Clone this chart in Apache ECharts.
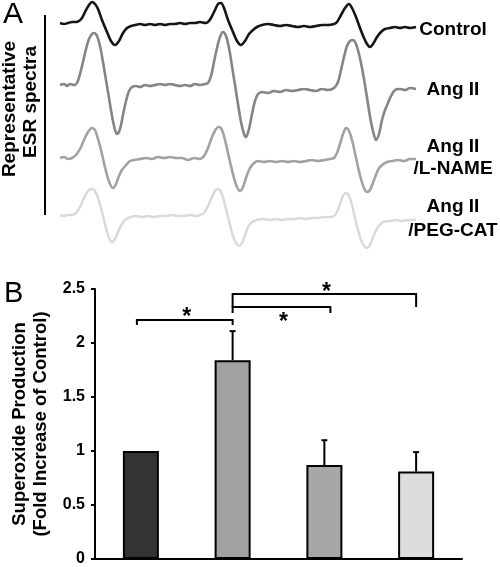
<!DOCTYPE html>
<html><head><meta charset="utf-8">
<script src="https://cdn.jsdelivr.net/npm/echarts@6/dist/echarts.min.js"></script>
<style>html,body{margin:0;padding:0;background:#fff}#c{width:500px;height:567px}</style>
</head><body><div id="c"></div>
<script>
// ---------- Panel A: representative ESR spectra (field units, signal relative to baseline) ----------
const spectrumNames = ['Control', 'Ang II', 'Ang II\n/L-NAME', 'Ang II\n/PEG-CAT'];
const spectrumColors = ['#151515', '#858585', '#a2a2a2', '#dadada'];

const controlSpectrum = [[0,0],[4,-1],[8,0],[12,1],[16,1],[19,2],[22,5],[26,13],[29,18],[32,21],[35,19],[38,14],[42,3],[47,-9],[51,-18],[55,-22],[59,-18],[63,-10],[67,-5],[71,-3],[75,-2],[80,-1],[85,-2],[90,-1],[95,-2],[100,-1],[105,-2],[110,-1],[115,-1],[120,0],[125,-1],[130,0],[135,0],[140,1],[145,0],[148,1],[151,5],[155,13],[158,19],[161,20],[164,15],[168,3],[173,-9],[177,-18],[181,-22],[185,-18],[189,-11],[193,-7],[197,-4],[202,-2],[208,-1],[214,-2],[220,-3],[226,-2],[232,-3],[238,-4],[244,-3],[250,-4],[256,-3],[262,-2],[268,-2],[274,-1],[277,1],[281,8],[285,15],[289,19],[292,15],[296,6],[300,-5],[304,-15],[307,-21],[310,-24],[313,-21],[317,-14],[321,-9],[325,-6],[330,-5],[335,-4],[340,-5],[345,-4],[350,-5],[356,-4]];

const angIISpectrum = [[0,0],[4,1],[7,-1],[10,1],[14,0],[17,2],[20,11],[23,23],[26,36],[29,46],[32,51],[34,52],[37,49],[40,39],[43,23],[46,5],[49,-13],[52,-31],[55,-45],[57,-49],[60,-44],[63,-30],[66,-16],[69,-6],[72,-2],[76,-1],[80,-2],[85,0],[90,-1],[95,0],[100,1],[105,0],[110,1],[115,0],[120,-1],[125,0],[130,-1],[135,1],[140,0],[145,1],[148,2],[151,9],[154,23],[157,37],[160,48],[163,53],[166,49],[169,37],[172,19],[175,0],[178,-19],[181,-37],[184,-49],[186,-52],[189,-44],[192,-29],[195,-16],[198,-9],[202,-7],[208,-8],[214,-6],[220,-7],[226,-5],[232,-6],[238,-5],[244,-4],[250,-5],[256,-6],[262,-4],[268,-5],[274,-3],[278,3],[281,15],[284,28],[287,39],[290,44],[293,45],[296,41],[299,31],[302,17],[305,0],[308,-19],[311,-37],[314,-50],[316,-55],[319,-49],[322,-35],[325,-25],[328,-18],[331,-11],[335,-5],[340,-4],[345,-5],[350,-3],[356,-4]];

const lnameSpectrum = [[0,0],[4,1],[8,-1],[12,0],[16,3],[20,9],[24,18],[28,26],[32,30],[35,28],[38,19],[41,8],[44,-5],[47,-17],[50,-26],[53,-30],[56,-26],[59,-18],[62,-12],[66,-7],[70,-3],[74,-2],[80,-1],[86,0],[92,-1],[98,1],[104,0],[110,1],[116,0],[122,0],[128,-2],[134,0],[140,-1],[144,2],[148,10],[152,21],[156,29],[159,31],[162,28],[165,18],[168,5],[171,-8],[174,-20],[177,-29],[180,-33],[183,-29],[186,-20],[189,-12],[193,-6],[198,-3],[204,-4],[210,-3],[216,-4],[222,-3],[228,-4],[234,-3],[240,-4],[246,-3],[252,-2],[258,-3],[264,-2],[270,-1],[274,0],[277,5],[280,14],[283,24],[286,30],[289,27],[292,18],[295,5],[298,-9],[301,-21],[304,-30],[307,-34],[310,-32],[314,-22],[318,-12],[322,-7],[327,-4],[332,-3],[338,-2],[344,-3],[350,-1],[356,-1]];

const pegcatSpectrum = [[0,0],[4,-1],[8,0],[12,0],[16,2],[20,8],[24,17],[28,24],[32,26],[35,24],[38,17],[41,7],[44,-5],[47,-17],[50,-25],[52,-27],[55,-24],[58,-17],[62,-9],[66,-4],[71,-2],[76,-1],[82,-2],[88,-1],[94,-2],[100,-1],[106,-1],[112,0],[118,-1],[124,-1],[130,0],[136,-1],[140,0],[144,2],[148,9],[152,18],[155,24],[158,26],[161,23],[164,14],[167,2],[170,-10],[173,-21],[176,-28],[179,-31],[182,-28],[185,-20],[188,-12],[192,-7],[197,-5],[203,-4],[210,-5],[216,-4],[222,-5],[228,-4],[234,-4],[240,-3],[246,-4],[252,-3],[258,-3],[264,-2],[270,-2],[274,-1],[277,3],[280,11],[283,19],[286,22],[289,19],[292,10],[295,-3],[298,-15],[301,-25],[304,-31],[307,-33],[310,-30],[314,-20],[318,-12],[323,-7],[330,-6],[336,-5],[342,-6],[348,-5],[356,-5]];

const spectra = [controlSpectrum, angIISpectrum, lnameSpectrum, pegcatSpectrum];

// ---------- Panel B: superoxide production ----------
const barCategories = ['Control', 'Ang II', 'Ang II/L-NAME', 'Ang II/PEG-CAT'];
const barValues = [1.00, 1.84, 0.87, 0.81];
const barErrors = [0, 0.27, 0.23, 0.18];
const barColors = ['#333333', '#a1a1a1', '#a7a7a7', '#dddddd'];
const yTickLabels = ['0', '0.5', '1', '1.5', '2', '2.5'];

// significance brackets: from category, to category, bracket level, end level, star level
const bracketFrom = [0, 1, 1];
const bracketTo = [1, 2, 3];
const bracketLevel = [2.213, 2.333, 2.454];
const bracketEnd = [2.167, 2.278, 2.333];
const starLevel = [2.236, 2.185, 2.463];

// ---------- layout ----------
const spectrumBaselines = [23, 85, 158, 215];
const labelCenters = [[30], [90], [147, 169], [207, 231]];
const bracketNudgeL = [-4, 0, 0];   // pixel nudges of bracket ends
const bracketNudgeR = [0, 6, 0];
const FONT = '"Liberation Sans", Arial, Helvetica, sans-serif';

const grids = [], xAxes = [], yAxes = [], series = [];
spectra.forEach((s, i) => {
  grids.push({left: 60, width: 356, top: spectrumBaselines[i] - 20, height: 40, containLabel: false, outerBoundsMode: 'none'});
  xAxes.push({type: 'value', gridIndex: i, min: 0, max: 356, show: false});
  yAxes.push({type: 'value', gridIndex: i, min: -20, max: 20, show: false});
  series.push({
    type: 'line', xAxisIndex: i, yAxisIndex: i, data: s, showSymbol: false, smooth: 0.3,
    clip: false, lineStyle: {color: spectrumColors[i], width: 2.6}, silent: true
  });
});

const bi = 4;
grids.push({left: 95, right: 38, top: 289, bottom: 8, containLabel: false, outerBoundsMode: 'none'});
xAxes.push({
  type: 'category', gridIndex: bi, data: barCategories,
  axisLine: {show: true, lineStyle: {color: '#000', width: 2}},
  axisTick: {show: false}, axisLabel: {show: false}, splitLine: {show: false}
});
yAxes.push({
  type: 'value', gridIndex: bi, min: 0, max: 2.5, interval: 0.5,
  axisLine: {show: true, lineStyle: {color: '#000', width: 2}},
  axisTick: {show: true, length: 4, lineStyle: {color: '#000', width: 2}},
  axisLabel: {color: '#000', fontWeight: 'bold', fontSize: 16, fontFamily: FONT, margin: 10,
    formatter: (v) => yTickLabels[Math.round(v / 0.5)]},
  splitLine: {show: false},
  name: 'Superoxide Production\n(Fold Increase of Control)',
  nameLocation: 'middle', nameRotate: 90, nameGap: 43,
  nameTextStyle: {color: '#000', fontWeight: 'bold', fontSize: 18.5, fontFamily: FONT, lineHeight: 21}
});

series.push({
  type: 'bar', xAxisIndex: bi, yAxisIndex: bi, barWidth: 36,
  data: barValues.map((v, i) => ({value: v, itemStyle: {color: barColors[i]}})),
  itemStyle: {borderColor: '#000', borderWidth: 2}, silent: true
});

series.push({
  type: 'custom', xAxisIndex: bi, yAxisIndex: bi, z: 5, silent: true,
  data: barValues.map((v, i) => [i, v, v + barErrors[i]]).filter((d, i) => barErrors[i] > 0),
  renderItem: (params, api) => {
    const p0 = api.coord([api.value(0), api.value(1)]);
    const p1 = api.coord([api.value(0), api.value(2)]);
    return {type: 'group', children: [
      {type: 'line', shape: {x1: p0[0], y1: p0[1], x2: p1[0], y2: p1[1]}, style: {stroke: '#000', lineWidth: 2}},
      {type: 'line', shape: {x1: p1[0] - 3, y1: p1[1], x2: p1[0] + 3, y2: p1[1]}, style: {stroke: '#000', lineWidth: 2}}
    ]};
  }
});

series.push({
  type: 'custom', xAxisIndex: bi, yAxisIndex: bi, z: 5, silent: true, clip: false,
  data: bracketFrom.map((f, i) => [f, bracketTo[i], bracketLevel[i], bracketEnd[i], starLevel[i]]),
  renderItem: (params, api) => {
    const k = params.dataIndex;
    const a = api.coord([api.value(0), api.value(3)]);
    const b = api.coord([api.value(0), api.value(2)]);
    const c = api.coord([api.value(1), api.value(2)]);
    const d = api.coord([api.value(1), api.value(3)]);
    a[0] += bracketNudgeL[k]; b[0] += bracketNudgeL[k];
    c[0] += bracketNudgeR[k]; d[0] += bracketNudgeR[k];
    const sy = api.coord([api.value(0), api.value(4)])[1];
    const sx = (b[0] + c[0]) / 2 + 2;
    return {type: 'group', children: [
      {type: 'polyline', shape: {points: [a, b, c, d]}, style: {stroke: '#000', lineWidth: 2, fill: null}},
      {type: 'text', x: sx, y: sy, style: {text: '*', fill: '#000', font: 'bold 23px ' + FONT, textAlign: 'center', textVerticalAlign: 'middle'}}
    ]};
  }
});

const graphics = [
  {type: 'text', left: 3, top: 0, style: {text: 'A', font: '30px ' + FONT, fill: '#000'}},
  {type: 'text', left: 4, top: 279, style: {text: 'B', font: '29px ' + FONT, fill: '#000'}},
  {type: 'line', shape: {x1: 45, y1: 15, x2: 45, y2: 215}, style: {stroke: '#000', lineWidth: 2}},
  {type: 'text', x: 10, y: 109, rotation: Math.PI / 2,
   style: {text: 'Representative', font: 'bold 19px ' + FONT, fill: '#000', textAlign: 'center', textVerticalAlign: 'middle'}},
  {type: 'text', x: 31, y: 102, rotation: Math.PI / 2,
   style: {text: 'ESR spectra', font: 'bold 19px ' + FONT, fill: '#000', textAlign: 'center', textVerticalAlign: 'middle'}}
];
spectrumNames.forEach((n, i) => {
  n.split('\n').forEach((line, j) => {
    graphics.push({type: 'text', x: 453, y: labelCenters[i][j],
      style: {text: line, font: 'bold 19px ' + FONT, fill: '#000', textAlign: 'center', textVerticalAlign: 'middle'}});
  });
});

const chart = echarts.init(document.getElementById('c'), null, {renderer: 'canvas'});
chart.setOption({
  animation: false, backgroundColor: '#fff',
  grid: grids, xAxis: xAxes, yAxis: yAxes, series: series, graphic: graphics
});
</script></body></html>
